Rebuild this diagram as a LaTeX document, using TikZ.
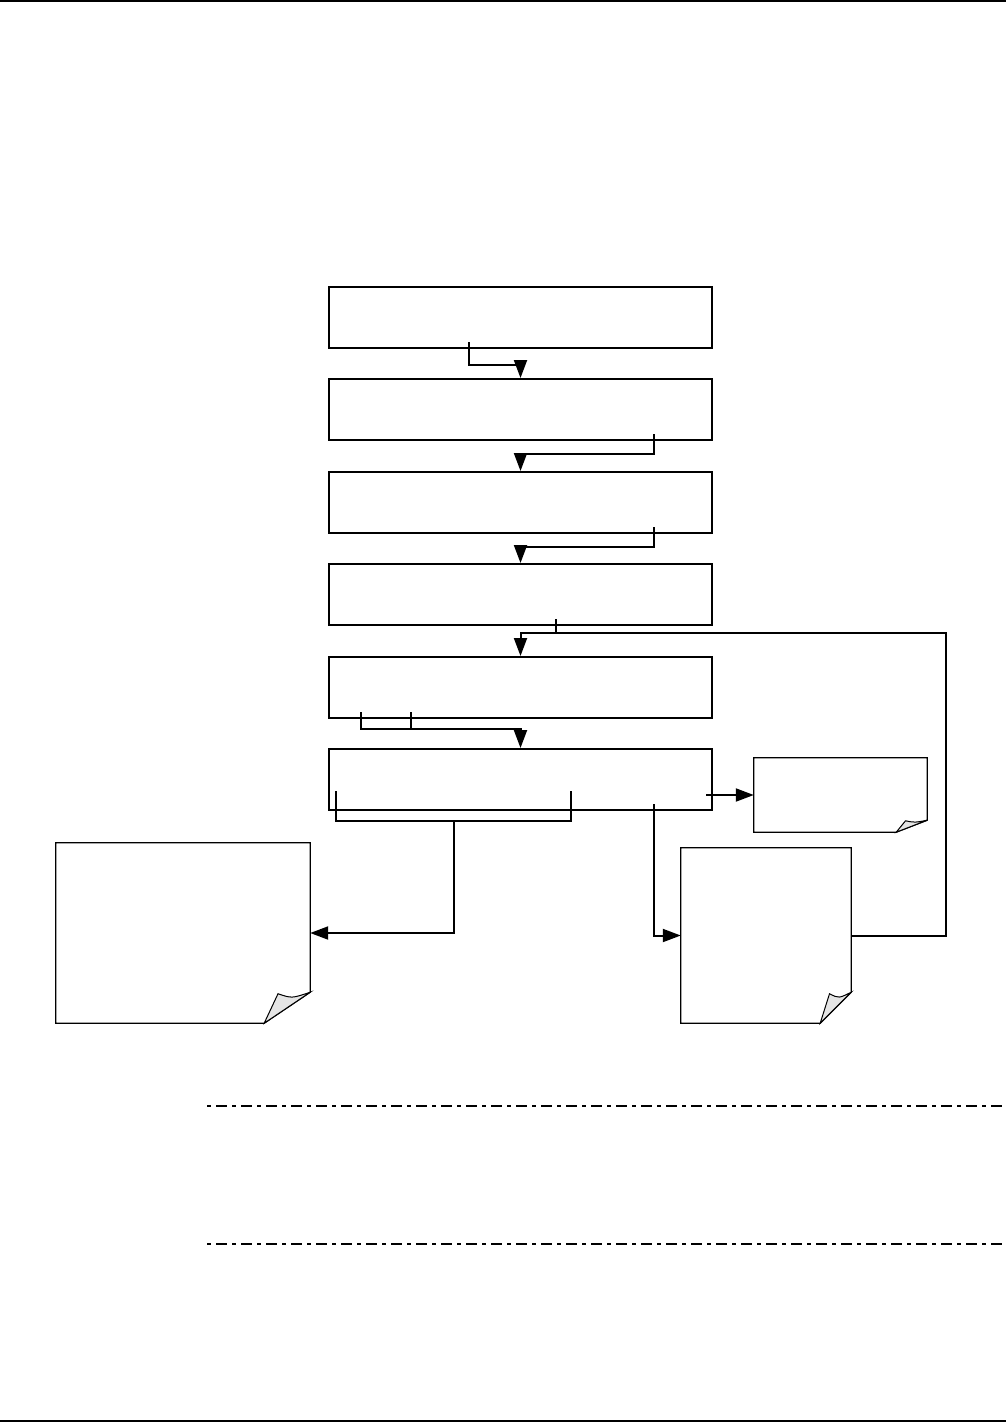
\documentclass[tikz,border=0pt]{standalone}
\usetikzlibrary{calc,arrows.meta}
\tikzset{
    stepbox/.style={
        draw, line width=2pt, inner sep=0pt,
        minimum width=383pt, minimum height=61pt
    },
    page/.style={inner sep=0pt},
    flow/.style={line width=2pt, -{Triangle[length=18pt,width=13pt]}},
    tick/.style={line width=2pt},
    brace/.style={line width=1.2pt},
    chop/.style={dash pattern=on 4pt off 5pt on 11pt off 5pt}
}

% page with a curled lower right corner: #1 node, #2 curl width, #3 curl height
\newcommand{\pagecurl}[3]{%
  \draw[line width=1.3pt, fill=white]
    (#1.north west) -- (#1.north east) -- ($(#1.south east)+(0,-#3)$)
    -- ($(#1.south east)+(-#2,0)$) -- (#1.south west) -- cycle;
  \draw[line width=1pt, fill=gray!20]
    ($(#1.south east)+(-#2,0)$)
    .. controls ($(#1.south east)+(-0.85*#2,-0.45*#3)$) .. ($(#1.south east)+(-0.7*#2,-0.95*#3)$)
    .. controls ($(#1.south east)+(-0.4*#2,-0.8*#3)$) .. ($(#1.south east)+(0,-#3)$)
    -- cycle;
}

\begin{document}
\begin{tikzpicture}[x=1pt,y=-1pt, line cap=butt, line join=miter]

\useasboundingbox (0,0) rectangle (1006,1422);

% page rules
\draw[line width=1.6pt] (0,1) -- (1006,1);
\draw[line width=1.6pt] (0,1421) -- (1006,1421);

% the six steps
\foreach \i/\y in {1/317,2/409.5,3/502.5,4/594.5,5/687.5,6/779.5} {
  \node[stepbox] (box\i) at (520.5,\y) {};
}

% the three pages
\node[page, minimum width=254pt, minimum height=180pt] (docL) at (183,933) {};
\node[page, minimum width=173pt, minimum height=74pt] (docS) at (840.5,795) {};
\node[page, minimum width=170pt, minimum height=175pt] (docR) at (766,935.5) {};
\pagecurl{docL}{46}{31}
\pagecurl{docS}{31}{12}
\pagecurl{docR}{31}{31}

% start points inside the steps
\coordinate (s1) at (469,342);
\coordinate (s2) at (654,434);
\coordinate (s3) at (654,527);
\coordinate (s4) at (556,619);
\coordinate (s5a) at (361,712);
\coordinate (s5b) at (411,712);
\coordinate (s6a) at (336,791);
\coordinate (s6b) at (571,791);
\coordinate (s6c) at (706,795);
\coordinate (s6d) at (654,804);
\coordinate (loop) at (946,633);

% step to step
\draw[flow] (s1) -- ++(0,23) -| (box2.north);
\draw[flow] (s2) -- ++(0,20) -| (box3.north);
\draw[flow] (s3) -- ++(0,20) -| (box4.north);
\draw[tick] (s4) -- ++(0,14);
\draw[flow] (docR.east) -| (loop) -| (box5.north);
\draw[tick] (s5b) -- ++(0,17);
\draw[flow] (s5a) -- ++(0,17) -| (box6.north);

% out of the last step
\draw[brace] (s6a) -- ++(0,30) -| (s6b);
\draw[flow] (454,821) |- (docL.east);
\draw[flow] (s6c) -- (s6c -| docS.west);
\draw[flow] (s6d) |- (docR.west);

% note rules
\draw[line width=1.3pt, chop] (207,1106) -- (1006,1106);
\draw[line width=2pt, chop] (207,1244) -- (1006,1244);

\end{tikzpicture}
\end{document}
